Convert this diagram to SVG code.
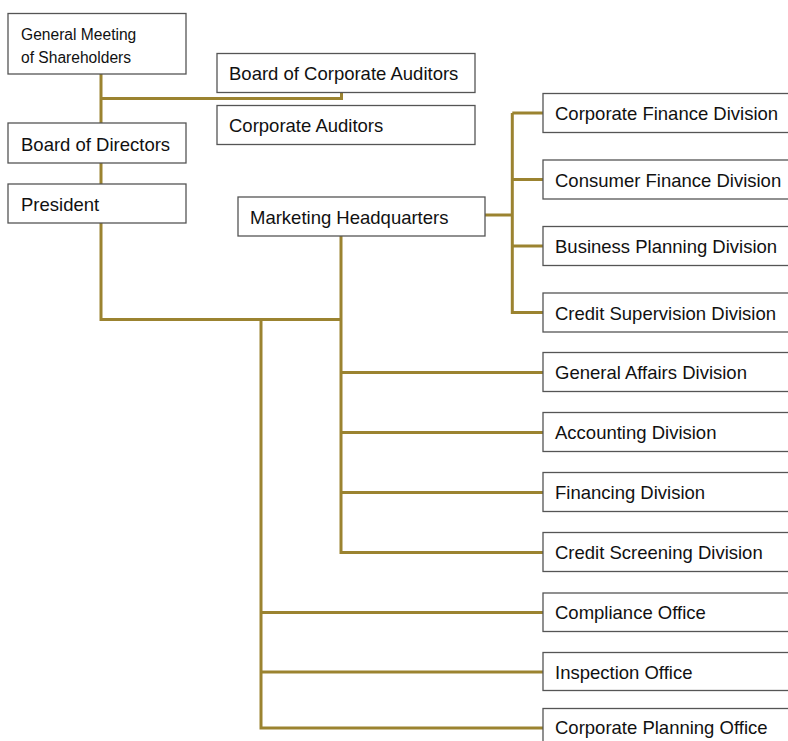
<svg xmlns="http://www.w3.org/2000/svg" width="788" height="741" viewBox="0 0 788 741">
<style>
.box{fill:#fff;stroke:#555;stroke-width:1.3}
.t{font-family:"Liberation Sans",Arial,sans-serif;font-size:18.5px;fill:#111}
.s{font-size:15.6px}
.c{fill:none;stroke:#9b8330;stroke-width:3}
</style>
<rect width="788" height="741" fill="#fff"/>
<g id="connectors">
<path class="c" d="M101 74V123M101 163V184M101 223V319.5H341"/>
<path class="c" d="M101 98.5H341.5V92"/>
<path class="c" d="M341 236V552.5H543M341 372.5H543M341 432.5H543M341 492.5H543"/>
<path class="c" d="M261 319.5V728H543M261 612.5H543M261 672H543"/>
<path class="c" d="M485 215H512.3M512.3 113V312.5H543M512.3 113H543M512.3 179.5H543M512.3 246H543"/>
</g>
<g id="gms"><rect class="box" x="8" y="13.5" width="178" height="60.5"/><text class="t s" x="21" y="40.3">General Meeting</text><text class="t s" x="21" y="63.3">of Shareholders</text></g>
<g id="bod"><rect class="box" x="8" y="123" width="178" height="40"/><text class="t" x="21" y="150.5">Board of Directors</text></g>
<g id="president"><rect class="box" x="8" y="184" width="178" height="39"/><text class="t" x="21" y="210.5">President</text></g>
<g id="bca"><rect class="box" x="217" y="53.5" width="258" height="39"/><text class="t" x="229" y="79.5">Board of Corporate Auditors</text></g>
<g id="ca"><rect class="box" x="217" y="105.5" width="258" height="39"/><text class="t" x="229" y="131.5">Corporate Auditors</text></g>
<g id="mhq"><rect class="box" x="238" y="197" width="247" height="39"/><text class="t" x="250" y="223.5">Marketing Headquarters</text></g>
<g id="cfd"><rect class="box" x="543" y="93.5" width="260" height="39"/><text class="t" x="555" y="120">Corporate Finance Division</text></g>
<g id="confd"><rect class="box" x="543" y="160" width="260" height="39"/><text class="t" x="555" y="186.5">Consumer Finance Division</text></g>
<g id="bpd"><rect class="box" x="543" y="226.5" width="260" height="39"/><text class="t" x="555" y="253">Business Planning Division</text></g>
<g id="csd"><rect class="box" x="543" y="293" width="260" height="39"/><text class="t" x="555" y="319.5">Credit Supervision Division</text></g>
<g id="gad"><rect class="box" x="543" y="352.5" width="260" height="39"/><text class="t" x="555" y="379">General Affairs Division</text></g>
<g id="ad"><rect class="box" x="543" y="412.5" width="260" height="39"/><text class="t" x="555" y="439">Accounting Division</text></g>
<g id="fd"><rect class="box" x="543" y="472.5" width="260" height="39"/><text class="t" x="555" y="499">Financing Division</text></g>
<g id="crsd"><rect class="box" x="543" y="532.5" width="260" height="39"/><text class="t" x="555" y="559">Credit Screening Division</text></g>
<g id="co"><rect class="box" x="543" y="593" width="260" height="38.5"/><text class="t" x="555" y="619">Compliance Office</text></g>
<g id="io"><rect class="box" x="543" y="652.5" width="260" height="38"/><text class="t" x="555" y="678.5">Inspection Office</text></g>
<g id="cpo"><rect class="box" x="543" y="708.5" width="260" height="40"/><text class="t" x="555" y="734">Corporate Planning Office</text></g>
</svg>
